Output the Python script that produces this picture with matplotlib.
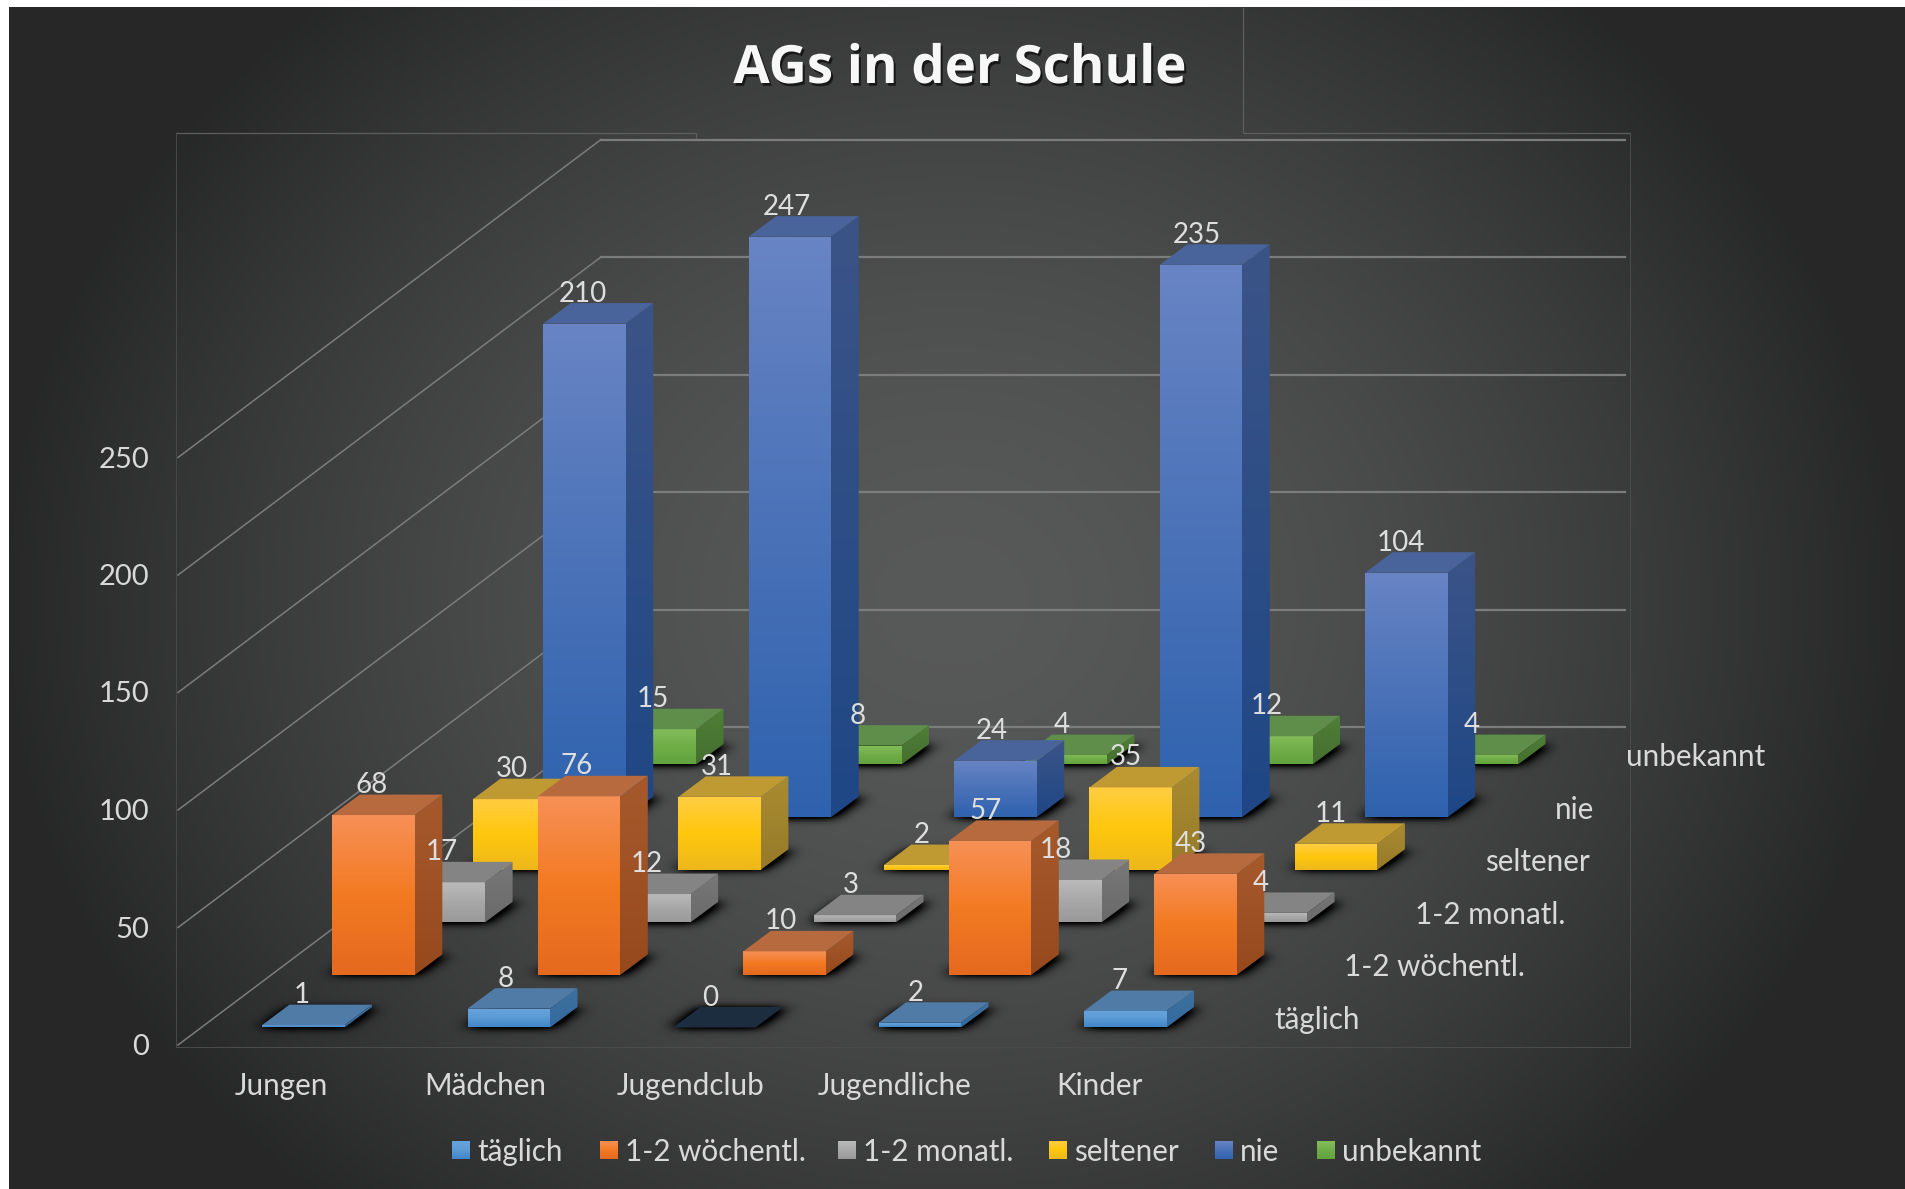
"""3D-Saeulendiagramm "AGs in der Schule" als schraege Projektion in Pixelkoordinaten."""

import numpy as np
import matplotlib
matplotlib.use("Agg")
import matplotlib.pyplot as plt
import matplotlib.patheffects as pe
from matplotlib.colors import to_rgb
from matplotlib.patches import Polygon
from matplotlib.path import Path

plt.rcParams["font.family"] = ["Lato", "DejaVu Sans"]

TITLE = "AGs in der Schule"
categories = ["Jungen", "Mädchen", "Jugendclub", "Jugendliche", "Kinder"]
series = ["täglich", "1-2 wöchentl.", "1-2 monatl.", "seltener", "nie", "unbekannt"]
y_ticks = [0, 50, 100, 150, 200, 250]

taeglich = [1, 8, 0, 2, 7]
woechentl = [68, 76, 10, 57, 43]
monatl = [17, 12, 3, 18, 4]
seltener = [30, 31, 2, 35, 11]
nie = [210, 247, 24, 235, 104]
unbekannt = [15, 8, 4, 12, 4]
values = [taeglich, woechentl, monatl, seltener, nie, unbekannt]

# Farben je Serie: Front (oben, mitte, unten), Seite (oben, unten), Deckel
front_cols = [("#68A4DE", "#5B9BD5", "#3F86C8"), ("#F79056", "#F37A22", "#E5691F"),
              ("#BBBBBB", "#A8A8A8", "#999999"), ("#FFCD42", "#FFC70C", "#EDB81D"),
              ("#6884C4", "#4A72B8", "#2F62AE"), ("#84BE5C", "#70AD47", "#62A33F")]
side_cols = [("#3F719F", "#346A9E"), ("#A65A2C", "#97491E"), ("#787878", "#6A6A6A"),
             ("#A98C30", "#977A2A"), ("#3B5488", "#1F4785"), ("#4F7F37", "#456F30")]
top_cols = ["#4F7BA6", "#B86A3F", "#848484", "#BF9932", "#48649B", "#5F8E4A"]
ZERO_TOP = "#1B2D3F"

# Geometrie der Projektion (Pixel)
BAR_X0, BAR_Y0 = 262, 1027.5
CAT_DX = 205.5
ROW_DX, ROW_DY = 70.3, -52.6
BAR_W = 82.5
DEPTH_DX, DEPTH_DY = 27.5, -20.5
Y_SCALE = 2.35
FRONT = np.array([178, 1045])
BACK = np.array([601, 727])
BACK_RIGHT = 1625


def vy(v):
    return Y_SCALE * v


def base(cat, row):
    return BAR_X0 + CAT_DX * cat + ROW_DX * row, BAR_Y0 + ROW_DY * row


def gradient(stops, n=64):
    cols = np.array([to_rgb(c) for c in stops])
    pos = np.linspace(0, 1, len(stops))
    t = np.linspace(0, 1, n)
    return np.stack([np.interp(t, pos, cols[:, i]) for i in range(3)], axis=1)[:, None, :]


def face(ax, pts, stops, z):
    pts = np.array(pts)
    x0, x1 = pts[:, 0].min(), pts[:, 0].max()
    y0, y1 = pts[:, 1].min(), pts[:, 1].max()
    im = ax.imshow(gradient(stops), extent=(x0, x1, y1, y0), aspect="auto",
                   interpolation="bilinear", zorder=z)
    clip = Polygon(pts, closed=True, transform=ax.transData)
    im.set_clip_path(clip)


fig = plt.figure(figsize=(19.05, 11.89), dpi=100, facecolor="white")
ax = fig.add_axes([0, 0, 1, 1])
ax.set_xlim(0, 1905)
ax.set_ylim(1189, 0)
ax.axis("off")
ax.autoscale(False)

# Hintergrund: radialer Verlauf
gy, gx = np.mgrid[7:1189:2, 9:1905:2]
r = np.clip(np.hypot((gx - 950) / 950, (gy - 600) / 800), 0, 1) ** 1.6
shade = (88 - 49 * r) / 255
ax.imshow(np.dstack([shade, shade * 1.01, shade * 1.01]).clip(0, 1),
          extent=(9, 1905, 1189, 7), aspect="auto", zorder=0)

# Rahmen von Plotbereich und Titelfeld
ax.plot([176, 696, 696], [133, 133, 139], color="#5E5E5E", lw=0.9, zorder=1)
ax.plot([1243, 1243, 1630], [8, 133, 133], color="#5E5E5E", lw=0.9, zorder=1)
ax.plot([176, 176], [133, 1047], color="#484848", lw=0.7, zorder=1)
ax.plot([1630, 1630, 176], [133, 1047, 1047], color="#4C4C4C", lw=0.7, zorder=1)

# Gitterlinien: Seitenwand und Rueckwand
for t in y_ticks:
    ax.plot([FRONT[0], BACK[0]], [FRONT[1] - vy(t), BACK[1] - vy(t)],
            color="#7C7C7C", lw=1.1, zorder=2)
    ax.plot([BACK[0], BACK_RIGHT], [BACK[1] - vy(t), BACK[1] - vy(t)],
            color="#7C7C7C", lw=1.6, zorder=2)
    ax.text(149, FRONT[1] + 2 - vy(t), str(t), ha="right", va="center",
            color="#D9D9D9", fontsize=21, zorder=100)

# Schatten auf dem Boden (weichgezeichnete Grundflaechen)
sy0, sy1, sx0, sx1 = 680, 1130, 200, 1560
yy, xx = np.mgrid[sy0:sy1, sx0:sx1]
mask = np.zeros(yy.shape)
for row in range(len(series)):
    for cat in range(len(categories)):
        x, y = base(cat, row)
        poly = Path([(x - 2, y), (x + BAR_W + 2, y),
                     (x + BAR_W + DEPTH_DX + 4, y + DEPTH_DY),
                     (x + DEPTH_DX - 2, y + DEPTH_DY)])
        i0, i1 = int(y + DEPTH_DY - sy0 - 2), int(y - sy0 + 2)
        j0, j1 = int(x - sx0 - 4), int(x + BAR_W + DEPTH_DX - sx0 + 8)
        pts = np.column_stack([xx[i0:i1, j0:j1].ravel(), yy[i0:i1, j0:j1].ravel()])
        inside = poly.contains_points(pts).reshape(i1 - i0, j1 - j0)
        mask[i0:i1, j0:j1] = np.maximum(mask[i0:i1, j0:j1], inside)


def blur(arr, sigma, axis):
    k = np.exp(-0.5 * (np.arange(-25, 26) / sigma) ** 2)
    k /= k.sum()
    return np.apply_along_axis(lambda m: np.convolve(m, k, mode="same"), axis, arr)


soft = blur(blur(mask, 8, 1), 4, 0)
alpha = np.clip(soft * 1.9, 0, 0.95)
ax.imshow(np.dstack([np.zeros_like(alpha)] * 3 + [alpha]),
          extent=(sx0, sx1, sy1, sy0), aspect="auto", zorder=3)

# Saeulen von hinten nach vorn
z = 10
for row in reversed(range(len(series))):
    for cat, val in enumerate(values[row]):
        x, y = base(cat, row)
        h = vy(val)
        front = [(x, y), (x + BAR_W, y), (x + BAR_W, y - h), (x, y - h)]
        # Seite 2 px unter die Front ziehen, sonst bleibt ein Spalt
        side = [(x + BAR_W - 2, y), (x + BAR_W, y), (x + BAR_W + DEPTH_DX, y + DEPTH_DY),
                (x + BAR_W + DEPTH_DX, y + DEPTH_DY - h), (x + BAR_W, y - h), (x + BAR_W - 2, y - h)]
        top = [(x, y - h), (x + BAR_W, y - h),
               (x + BAR_W + DEPTH_DX, y + DEPTH_DY - h), (x + DEPTH_DX, y + DEPTH_DY - h)]
        if val > 0:
            face(ax, side, side_cols[row], z)
            face(ax, front, front_cols[row], z + 1)
        ax.add_patch(Polygon(top, closed=True, fc=top_cols[row] if val > 0 else ZERO_TOP,
                             ec="none", zorder=z + 2))
        z += 3

# Wertebeschriftung
for row in range(len(series)):
    for cat, val in enumerate(values[row]):
        x, y = base(cat, row)
        ax.text(x + BAR_W / 2 - 2 - 0.8 * cat, y - vy(val) - 30, str(val), ha="center", va="center",
                color="#DEDEDE", fontsize=20, zorder=200)

# Achsenbeschriftungen
for cat, name in enumerate(categories):
    ax.text(281 + 204.6 * cat, 1086, name, ha="center", va="center",
            color="#D9D9D9", fontsize=21.3, zorder=100)
for row, name in enumerate(series):
    ax.text(1274 + ROW_DX * row, 1020 + ROW_DY * row, name, ha="left", va="center",
            color="#D9D9D9", fontsize=21.3, zorder=100)

# Legende
legend_sq = [452, 600, 838, 1049, 1215, 1317]
for row, name in enumerate(series):
    lx = legend_sq[row]
    face(ax, [(lx, 1141), (lx + 18, 1141), (lx + 18, 1159), (lx, 1159)], front_cols[row], 300)
    ax.text(lx + 25, 1152, name, ha="left", va="center", color="#D9D9D9",
            fontsize=21.3, zorder=300)

# Titel
ax.text(960, 69, TITLE, ha="center", va="center", color="#F7F7F7", fontsize=38,
        fontweight="bold", family=["Open Sans", "DejaVu Sans"], zorder=300,
        path_effects=[pe.withSimplePatchShadow(offset=(1.5, -2), shadow_rgbFace="black", alpha=0.6)])

fig.savefig("out.png", dpi=100, facecolor="white")
plt.close(fig)
